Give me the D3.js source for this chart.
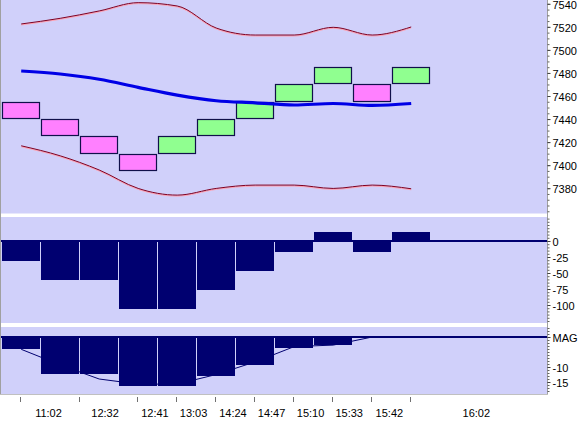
<!DOCTYPE html>
<html><head><meta charset="utf-8">
<script src="https://cdn.jsdelivr.net/npm/d3@7"></script>
<style>
body{margin:0;background:#fff;}
svg text{font-family:"Liberation Sans",Arial,sans-serif;font-size:11px;fill:#000;}
</style>
</head><body>
<svg id="chart" width="582" height="423"></svg>
<script>
// ---------- data ----------
const brickOpen  = [7455,7440,7425,7410,7410,7425,7440,7455,7470,7470,7470];
const brickClose = [7440,7425,7410,7395,7425,7440,7455,7470,7485,7455,7485];
const maValues   = [7481.7,7479.1,7474.5,7467.5,7460.8,7455.9,7454.1,7452.2,7453.5,7451.8,7453.5];
const upperBand  = [7522.5,7527.4,7533.8,7541.0,7538.1,7519.0,7512.9,7512.9,7519.6,7512.9,7519.9];
const lowerBand  = [7416.8,7408.1,7395.8,7379.8,7374.0,7379.8,7382.7,7382.7,7379.8,7382.7,7379.5];
const oscValues  = [-32,-61,-61,-106,-106,-77,-47,-17,14,-17,14];
const magBars    = [-4.1,-12.2,-12.2,-16.2,-16.2,-12.9,-9.2,-3.6,-2.7,0,0];
const magLine    = [-4.1,-9.3,-14,-15.7,-15.7,-12.5,-8.3,-3.2,-2.7,0,0];
const timeLabels = ["11:02","12:32","12:41","13:03","14:24","14:47","15:10","15:33","15:42","16:02"];
const labelSlots = [1.2,2.65,3.93,4.92,5.93,6.92,7.92,8.91,9.94,12.17];
const tickSlots  = [0.5,2,3.5,4.5,5.5,6.5,7.5,8.5,9.5,10.5];
const priceTicks = [7380,7400,7420,7440,7460,7480,7500,7520,7540];
const oscTicks   = [0,-25,-50,-75,-100];
const magTicks   = [0,-10,-15];

// ---------- layout ----------
const svg = d3.select("#chart");
const plotL = 1, plotR = 547;
const pTop = {y0:0, y1:213.5}, pMid = {y0:217, y1:323}, pBot = {y0:327, y1:394.5};
const bg = "#d0d0fa", navy = "#000070", axisGrey = "#a0a0a0";

const x = d3.scaleLinear().domain([0,14]).range([1.7,547.7]);
const yTop = d3.scaleLinear().domain([7380,7540]).range([188.2,3.8]);
const yMid = d3.scaleLinear().domain([-100,0]).range([305,241]);
const yBot = d3.scaleLinear().domain([-15,0]).range([382,337]);
const idx = d3.range(brickOpen.length);

// backgrounds
[pTop,pMid,pBot].forEach(p=>{
  svg.append("rect").attr("x",plotL).attr("y",p.y0).attr("width",plotR-plotL).attr("height",p.y1-p.y0).attr("fill",bg);
});

// ---------- top panel ----------
const g1 = svg.append("g");
g1.selectAll("rect.brick").data(idx).join("rect")
  .attr("class","brick")
  .attr("x",i=>Math.round(x(i))+0.5)
  .attr("width",i=>Math.round(x(i+1))-Math.round(x(i))-2)
  .attr("y",i=>Math.round(yTop(Math.max(brickOpen[i],brickClose[i])))+0.5)
  .attr("height",i=>Math.round(yTop(Math.min(brickOpen[i],brickClose[i])))-Math.round(yTop(Math.max(brickOpen[i],brickClose[i])))-1)
  .attr("fill",i=>brickClose[i]>brickOpen[i]?"#90ff90":"#ff80ff")
  .attr("stroke","#10104a").attr("stroke-width",1.2);

const lineTop = arr => d3.line().x((d,i)=>x(i+0.5)).y(d=>yTop(d)).curve(d3.curveMonotoneX)(arr);
[upperBand,lowerBand].forEach(arr=>{
  g1.append("path").attr("d",lineTop(arr)).attr("fill","none").attr("stroke","#ffa0b0").attr("stroke-width",1).attr("transform","translate(0,1)");
  g1.append("path").attr("d",lineTop(arr)).attr("fill","none").attr("stroke","#800020").attr("stroke-width",1);
});
g1.append("path").attr("d",lineTop(maValues)).attr("fill","none").attr("stroke","#0000e6").attr("stroke-width",3.2);

// ---------- middle panel ----------
const g2 = svg.append("g").attr("shape-rendering","crispEdges");
g2.append("line").attr("x1",plotL).attr("x2",plotR).attr("y1",yMid(0)).attr("y2",yMid(0)).attr("stroke",navy).attr("stroke-width",1.5);
g2.selectAll("rect").data(idx).join("rect")
  .attr("x",i=>Math.round(x(i)))
  .attr("width",i=>Math.round(x(i+1))-Math.round(x(i))-1.5)
  .attr("y",i=>Math.min(yMid(0),yMid(oscValues[i])))
  .attr("height",i=>Math.abs(yMid(oscValues[i])-yMid(0)))
  .attr("fill",navy);

// ---------- bottom panel ----------
const g3 = svg.append("g");
g3.append("line").attr("x1",plotL).attr("x2",plotR).attr("y1",yBot(0)).attr("y2",yBot(0)).attr("stroke",navy).attr("stroke-width",1.5).attr("shape-rendering","crispEdges");
g3.append("path").attr("d",d3.line().x((d,i)=>x(i+0.5)).y(d=>yBot(d))(magLine))
  .attr("fill","none").attr("stroke",navy).attr("stroke-width",1);
g3.selectAll("rect").data(idx).join("rect").attr("shape-rendering","crispEdges")
  .attr("x",i=>Math.round(x(i)))
  .attr("width",i=>Math.round(x(i+1))-Math.round(x(i))-1.5)
  .attr("y",yBot(0))
  .attr("height",i=>yBot(magBars[i])-yBot(0))
  .attr("fill",navy);

// ---------- borders ----------
svg.append("line").attr("x1",0.5).attr("x2",0.5).attr("y1",0).attr("y2",395).attr("stroke",axisGrey);
svg.append("line").attr("x1",plotR+0.5).attr("x2",plotR+0.5).attr("y1",0).attr("y2",395).attr("stroke",axisGrey);
svg.append("line").attr("x1",0).attr("x2",plotR+1).attr("y1",394.5).attr("y2",394.5).attr("stroke","#c0c0c0");

// ---------- right axes ----------
function rightAxis(scale, major, minor, fmt){
  const ga = svg.append("g").attr("transform",`translate(${plotR+0.5},0)`);
  ga.call(d3.axisRight(scale).tickValues(minor).tickSize(2).tickFormat(""))
    .call(g=>g.select(".domain").remove())
    .call(g=>g.selectAll("line").attr("stroke","#606060"));
  const gm = svg.append("g").attr("transform",`translate(${plotR+0.5},0)`);
  gm.call(d3.axisRight(scale).tickValues(major).tickSize(3).tickPadding(2).tickFormat(fmt||(d=>d)))
    .call(g=>g.select(".domain").remove())
    .call(g=>g.selectAll("line").attr("stroke","#404040"))
    .call(g=>g.selectAll("text").attr("font-family",null).attr("font-size",null).attr("dy","0.42em"));
}
rightAxis(yTop, priceTicks, d3.range(7360,7545,5));
rightAxis(yMid, oscTicks, d3.range(35,-130,-5));
rightAxis(yBot, magTicks, d3.range(3,-19,-1), d=>d===0?"MAG":d);

// ---------- bottom time axis ----------
const gx = svg.append("g");
gx.selectAll("line").data(tickSlots).join("line")
  .attr("x1",d=>Math.round(x(d))-0.5).attr("x2",d=>Math.round(x(d))-0.5)
  .attr("y1",397).attr("y2",402).attr("stroke","#707070");
gx.selectAll("text").data(timeLabels).join("text")
  .attr("x",(d,i)=>x(labelSlots[i])).attr("y",417)
  .attr("text-anchor","middle").text(d=>d);
</script>
</body></html>
